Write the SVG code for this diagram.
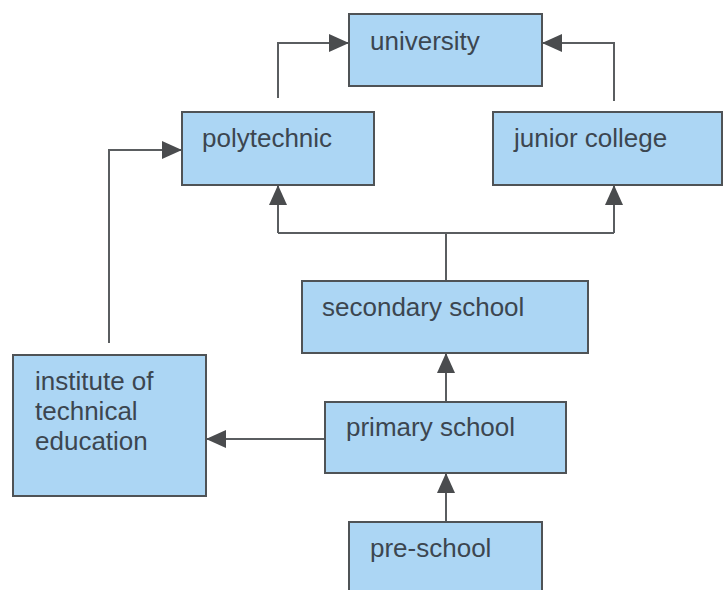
<svg xmlns="http://www.w3.org/2000/svg" width="726" height="590" viewBox="0 0 726 590">
<style>
.box{fill:#acd6f4;stroke:#4f5356;stroke-width:2}
.lbl{font-family:"Liberation Sans",Arial,sans-serif;font-size:26px;fill:#3c4650}
.con{fill:none;stroke:#5a5d60;stroke-width:2}
</style>
<defs>
<marker id="ah" viewBox="0 0 20 18" refX="20" refY="9" markerWidth="20" markerHeight="18" markerUnits="userSpaceOnUse" orient="auto">
<path d="M0,0 L20,9 L0,18 Z" fill="#4a4c4e"/>
</marker>
</defs>
<rect width="726" height="590" fill="#ffffff"/>
<g id="connectors">
<path class="con" d="M278,98 V43 H349" marker-end="url(#ah)"/>
<path class="con" d="M614,101 V43 H542" marker-end="url(#ah)"/>
<path class="con" d="M446,281 V233"/>
<path class="con" d="M278,233 H614"/>
<path class="con" d="M278,233 V185" marker-end="url(#ah)"/>
<path class="con" d="M614,233 V185" marker-end="url(#ah)"/>
<path class="con" d="M446,402 V353" marker-end="url(#ah)"/>
<path class="con" d="M446,522 V473" marker-end="url(#ah)"/>
<path class="con" d="M325,439 H206" marker-end="url(#ah)"/>
<path class="con" d="M109,343 V150 H182" marker-end="url(#ah)"/>
</g>
<g id="university">
<rect class="box" x="349" y="14" width="193" height="72"/>
<text class="lbl" x="370" y="50">university</text>
</g>
<g id="polytechnic">
<rect class="box" x="182" y="112" width="192" height="73"/>
<text class="lbl" x="202" y="147">polytechnic</text>
</g>
<g id="junior-college">
<rect class="box" x="493" y="112" width="229" height="73"/>
<text class="lbl" x="514" y="147">junior college</text>
</g>
<g id="secondary-school">
<rect class="box" x="302" y="281" width="286" height="72"/>
<text class="lbl" x="322" y="316">secondary school</text>
</g>
<g id="primary-school">
<rect class="box" x="325" y="402" width="241" height="71"/>
<text class="lbl" x="346" y="436">primary school</text>
</g>
<g id="pre-school">
<rect class="box" x="349" y="522" width="193" height="80"/>
<text class="lbl" x="370" y="557">pre-school</text>
</g>
<g id="institute-of-technical-education">
<rect class="box" x="13" y="355" width="193" height="141"/>
<text class="lbl" x="35" y="390">institute of</text>
<text class="lbl" x="35" y="420">technical</text>
<text class="lbl" x="35" y="450">education</text>
</g>
</svg>
